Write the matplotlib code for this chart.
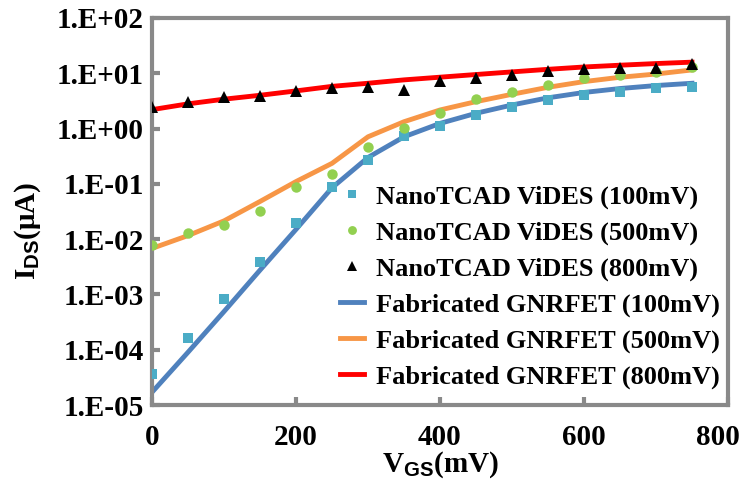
import matplotlib
matplotlib.use("Agg")
import matplotlib.pyplot as plt
import matplotlib.transforms as mtrans
import numpy as np

plt.rcParams['font.family'] = ['Liberation Serif', 'DejaVu Serif']
plt.rcParams['font.weight'] = 'bold'
plt.rcParams['axes.labelweight'] = 'bold'
plt.rcParams['mathtext.fontset'] = 'custom'
plt.rcParams['mathtext.rm'] = 'Liberation Serif:bold'
plt.rcParams['mathtext.it'] = 'Liberation Serif:bold'
plt.rcParams['mathtext.bf'] = 'Liberation Serif:bold'
plt.rcParams['mathtext.sf'] = 'Liberation Sans:bold'

vgs = [0, 50, 100, 150, 200, 250, 300, 350, 400, 450, 500, 550, 600, 650, 700, 750]

# NanoTCAD ViDES simulation points (uA)
vides_100 = [3.7e-5, 1.65e-4, 8.2e-4, 3.9e-3, 0.020, 0.089, 0.27, 0.73, 1.11, 1.76,
             2.49, 3.29, 4.05, 4.65, 5.36, 5.59]
vides_500 = [0.0078, 0.0128, 0.018, 0.032, 0.089, 0.151, 0.47, 1.01, 1.89, 3.39,
             4.65, 6.1, 8.1, 9.3, 10.7, 13.2]
vides_800 = [2.5, 3.07, 3.68, 3.93, 4.84, 5.36, 5.72, 4.99, 7.35, 8.3,
             9.3, 11.0, 12.0, 12.6, 12.6, 14.5]

# Fabricated GNRFET curves (uA)
fab_100 = [1.7e-5, 9e-5, 4.9e-4, 2.75e-3, 0.015, 0.085, 0.30, 0.71, 1.24, 1.89,
           2.67, 3.6, 4.5, 5.3, 6.0, 6.6]
fab_500 = [0.0068, 0.0116, 0.0214, 0.048, 0.11, 0.235, 0.71, 1.33, 2.17, 3.07,
           4.17, 5.58, 7.07, 8.47, 9.7, 11.5]
fab_800 = [2.2, 2.8, 3.4, 4.0, 4.8, 5.8, 6.6, 7.6, 8.5, 9.5,
           10.6, 11.8, 13.0, 14.0, 15.0, 15.9]

fig = plt.figure(figsize=(7.42, 4.92), dpi=100)
ax = fig.add_axes([152/742, 1-405/492, 576/742, 387/492])

ax.plot(vgs, fab_100, color='#4F81BD', lw=3.5, label='Fabricated GNRFET (100mV)', zorder=2)
ax.plot(vgs, fab_500, color='#F79646', lw=3.5, label='Fabricated GNRFET (500mV)', zorder=2)
ax.plot(vgs, fab_800, color='#FF0000', lw=3.5, label='Fabricated GNRFET (800mV)', zorder=2)
ax.plot(vgs, vides_100, ls='none', marker='s', ms=7.5, color='#4BACC6', mew=0,
        label='NanoTCAD ViDES (100mV)', zorder=3)
ax.plot(vgs, vides_500, ls='none', marker='o', ms=7.5, color='#92D050', mew=0,
        label='NanoTCAD ViDES (500mV)', zorder=3)
ax.plot(vgs, vides_800, ls='none', marker='^', ms=8.5, color='black', mew=0,
        label='NanoTCAD ViDES (800mV)', zorder=3)

ax.set_yscale('log')
ax.set_ylim(1e-5, 1e2)
ax.set_xlim(0, 800)
ax.set_xticks([0, 200, 400, 600, 800])
ax.set_yticks([10.0**k for k in range(-5, 3)])
ax.yaxis.set_minor_locator(matplotlib.ticker.NullLocator())
ax.yaxis.set_major_formatter(matplotlib.ticker.FuncFormatter(
    lambda v, p: "1.E{:+03d}".format(int(round(np.log10(v))))))

for s in ax.spines.values():
    s.set_color('#898989')
    s.set_linewidth(3)
ax.tick_params(direction='in', length=6, width=3, color='#898989', labelsize=21)
ax.tick_params(axis='x', pad=14)
ax.tick_params(axis='y', pad=6)

lbls = ax.get_xticklabels()
lbls[-1].set_transform(lbls[-1].get_transform() +
                       mtrans.ScaledTranslation(-0.10, 0, fig.dpi_scale_trans))

ax.set_xlabel(r'$\mathrm{V}_{\mathsf{GS}}$(mV)', fontsize=21, fontweight='bold')
ax.set_ylabel(r'$\mathrm{I}_{\mathsf{DS}}$(μA)', fontsize=21, fontweight='bold')
ax.xaxis.set_label_coords(0.5, -0.115)
ax.yaxis.set_label_coords(-0.19, 0.45)

h, l = ax.get_legend_handles_labels()
order = [3, 4, 5, 0, 1, 2]
ax.legend([h[i] for i in order], [l[i] for i in order], loc='upper left',
          bbox_to_anchor=(340/742, 1-185/492), bbox_transform=fig.transFigure,
          frameon=False, fontsize=19, handlelength=0.9, handletextpad=0.45,
          labelspacing=0.46, borderpad=0, borderaxespad=0, markerscale=0.85)

fig.savefig('out.png', dpi=100)
